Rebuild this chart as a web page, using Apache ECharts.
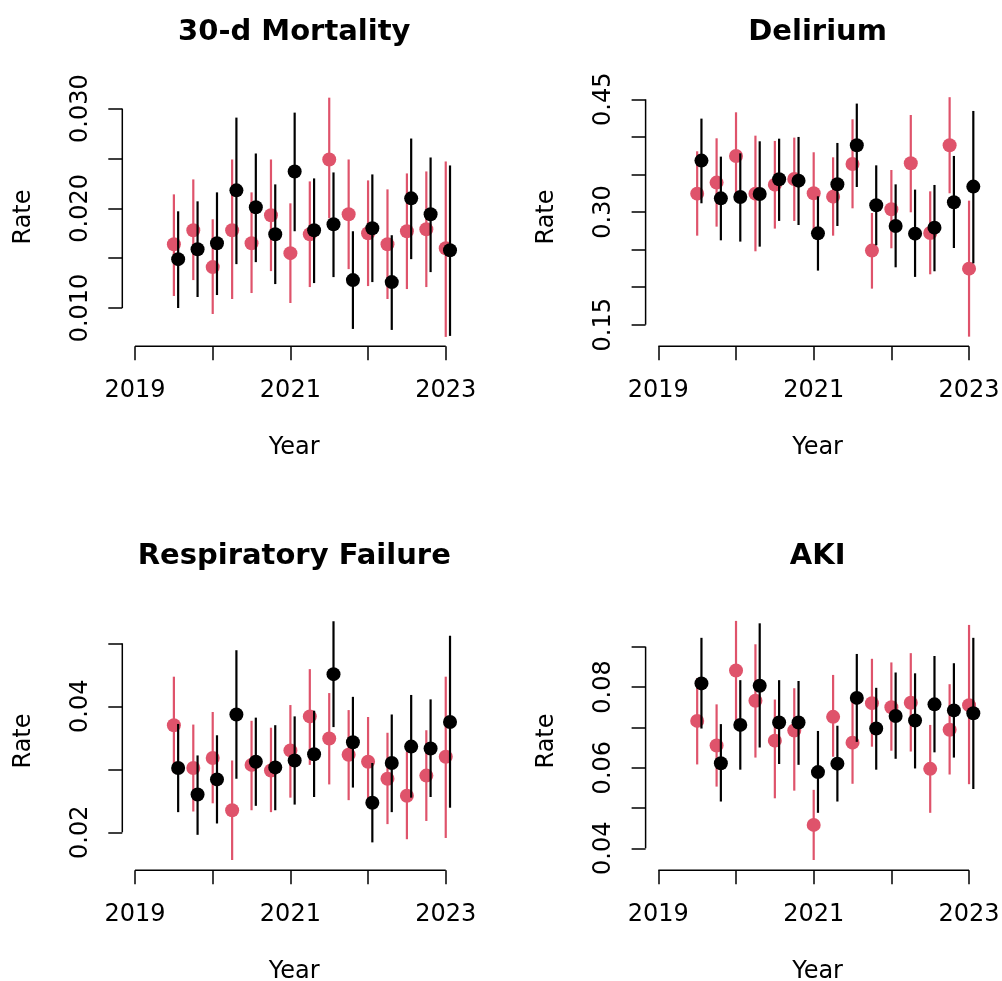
<!DOCTYPE html>
<html>
<head>
<meta charset="utf-8">
<script src="https://cdn.jsdelivr.net/npm/echarts@6/dist/echarts.min.js"></script>
<style>html,body{margin:0;padding:0;background:#fff}#c{width:1002px;height:981px}</style>
</head>
<body>
<div id="c"></div>
<script>
// ---------- data ----------
const yearTicks = [2019, 2020, 2021, 2022, 2023];
const yearLabels = [2019, 2021, 2023];
const timesRed = [2019.50, 2019.75, 2020.00, 2020.25, 2020.50, 2020.75, 2021.00, 2021.25, 2021.50, 2021.75, 2022.00, 2022.25, 2022.50, 2022.75, 2023.00];
const timesBlack = [2019.555, 2019.805, 2020.055, 2020.305, 2020.555, 2020.805, 2021.055, 2021.305, 2021.555, 2021.805, 2022.055, 2022.305, 2022.555, 2022.805, 2023.055];

// 30-d Mortality
const mortTicks = [0.010, 0.015, 0.020, 0.025, 0.030];
const mortLabels = [0.010, 0.020, 0.030];
const mortRedEst = [0.0164, 0.0178, 0.0141, 0.0178, 0.0165, 0.0193, 0.0155, 0.0174, 0.0249, 0.0194, 0.0175, 0.0164, 0.0177, 0.0179, 0.0160];
const mortRedLo  = [0.0112, 0.0128, 0.0094, 0.0109, 0.0115, 0.0137, 0.0105, 0.0121, 0.0190, 0.0139, 0.0122, 0.0109, 0.0119, 0.0121, 0.0071];
const mortRedHi  = [0.0214, 0.0229, 0.0189, 0.0249, 0.0216, 0.0249, 0.0205, 0.0227, 0.0311, 0.0249, 0.0228, 0.0219, 0.0235, 0.0237, 0.0247];
const mortBlkEst = [0.0149, 0.0159, 0.0165, 0.0218, 0.0201, 0.0174, 0.0237, 0.0178, 0.0184, 0.0128, 0.0180, 0.0126, 0.0210, 0.0194, 0.0158];
const mortBlkLo  = [0.0100, 0.0111, 0.0113, 0.0144, 0.0146, 0.0124, 0.0177, 0.0125, 0.0131, 0.0079, 0.0126, 0.0078, 0.0149, 0.0136, 0.0072];
const mortBlkHi  = [0.0197, 0.0207, 0.0216, 0.0291, 0.0255, 0.0224, 0.0296, 0.0230, 0.0236, 0.0177, 0.0234, 0.0173, 0.0270, 0.0251, 0.0243];

// Delirium
const delTicks = [0.15, 0.20, 0.25, 0.30, 0.35, 0.40, 0.45];
const delLabels = [0.15, 0.30, 0.45];
const delRedEst = [0.3244, 0.3391, 0.3746, 0.3244, 0.3364, 0.3440, 0.3249, 0.3204, 0.3639, 0.2486, 0.3036, 0.3648, 0.2721, 0.3888, 0.2246];
const delRedLo  = [0.2685, 0.2805, 0.3200, 0.2477, 0.2779, 0.2881, 0.2729, 0.2685, 0.3049, 0.1980, 0.2517, 0.2996, 0.2171, 0.3249, 0.1341];
const delRedHi  = [0.3808, 0.3981, 0.4327, 0.4016, 0.3946, 0.3990, 0.3795, 0.3728, 0.4234, 0.2987, 0.3559, 0.4291, 0.3275, 0.4528, 0.3151];
const delBlkEst = [0.3684, 0.3182, 0.3200, 0.3240, 0.3435, 0.3417, 0.2716, 0.3369, 0.3888, 0.3089, 0.2814, 0.2712, 0.2792, 0.3129, 0.3338];
const delBlkLo  = [0.3116, 0.2623, 0.2606, 0.2539, 0.2881, 0.2827, 0.2220, 0.2814, 0.3333, 0.2557, 0.2264, 0.2136, 0.2211, 0.2521, 0.2317];
const delBlkHi  = [0.4243, 0.3737, 0.3781, 0.3941, 0.3976, 0.3999, 0.3209, 0.3919, 0.4443, 0.3621, 0.3368, 0.3298, 0.3360, 0.3746, 0.4345];

// Respiratory Failure
const respTicks = [0.02, 0.03, 0.04, 0.05];
const respLabels = [0.02, 0.04];
const respRedEst = [0.0370, 0.0302, 0.0318, 0.0235, 0.0307, 0.0298, 0.0330, 0.0384, 0.0349, 0.0323, 0.0312, 0.0285, 0.0258, 0.0290, 0.0320];
const respRedLo  = [0.0294, 0.0233, 0.0246, 0.0156, 0.0235, 0.0232, 0.0255, 0.0307, 0.0276, 0.0251, 0.0241, 0.0213, 0.0189, 0.0218, 0.0191];
const respRedHi  = [0.0447, 0.0371, 0.0391, 0.0314, 0.0377, 0.0366, 0.0402, 0.0459, 0.0421, 0.0394, 0.0383, 0.0358, 0.0328, 0.0362, 0.0447];
const respBlkEst = [0.0302, 0.0260, 0.0284, 0.0387, 0.0312, 0.0303, 0.0314, 0.0324, 0.0451, 0.0343, 0.0247, 0.0310, 0.0336, 0.0333, 0.0375];
const respBlkLo  = [0.0232, 0.0196, 0.0214, 0.0285, 0.0242, 0.0235, 0.0244, 0.0256, 0.0367, 0.0271, 0.0184, 0.0232, 0.0255, 0.0256, 0.0239];
const respBlkHi  = [0.0372, 0.0322, 0.0354, 0.0489, 0.0382, 0.0370, 0.0384, 0.0393, 0.0535, 0.0415, 0.0310, 0.0387, 0.0418, 0.0411, 0.0512];

// AKI
const akiTicks = [0.04, 0.05, 0.06, 0.07, 0.08, 0.09];
const akiLabels = [0.04, 0.06, 0.08];
const akiRedEst = [0.0716, 0.0655, 0.0841, 0.0766, 0.0667, 0.0692, 0.0458, 0.0726, 0.0662, 0.0760, 0.0750, 0.0761, 0.0597, 0.0694, 0.0755];
const akiRedLo  = [0.0608, 0.0553, 0.0718, 0.0625, 0.0524, 0.0543, 0.0371, 0.0627, 0.0560, 0.0652, 0.0642, 0.0640, 0.0488, 0.0583, 0.0559];
const akiRedHi  = [0.0822, 0.0757, 0.0964, 0.0906, 0.0769, 0.0797, 0.0545, 0.0830, 0.0764, 0.0870, 0.0861, 0.0884, 0.0706, 0.0807, 0.0954];
const akiBlkEst = [0.0809, 0.0611, 0.0706, 0.0803, 0.0712, 0.0712, 0.0589, 0.0610, 0.0773, 0.0697, 0.0728, 0.0717, 0.0757, 0.0742, 0.0735];
const akiBlkLo  = [0.0697, 0.0516, 0.0595, 0.0650, 0.0609, 0.0607, 0.0488, 0.0516, 0.0664, 0.0595, 0.0622, 0.0598, 0.0638, 0.0625, 0.0547];
const akiBlkHi  = [0.0922, 0.0708, 0.0817, 0.0958, 0.0817, 0.0815, 0.0691, 0.0704, 0.0882, 0.0798, 0.0836, 0.0834, 0.0877, 0.0859, 0.0922];

// ---------- layout / style ----------
const RED = '#DF536B', BLACK = '#000000';
const FONT = 'DejaVu Sans';
const X_MIN = 2018.836, X_MAX = 2023.264;
const GW = 343.95, GH = 258.6;
const panels = [
  {title: '30-d Mortality', left: 122.3, top: 87.7, yMin: 0.006157, yMax: 0.03210, ticks: mortTicks, labels: mortLabels, dec: 3,
   red: [mortRedEst, mortRedLo, mortRedHi], blk: [mortBlkEst, mortBlkLo, mortBlkHi]},
  {title: 'Delirium', left: 645.6, top: 87.7, yMin: 0.12125, yMax: 0.46544, ticks: delTicks, labels: delLabels, dec: 2,
   red: [delRedEst, delRedLo, delRedHi], blk: [delBlkEst, delBlkLo, delBlkHi]},
  {title: 'Respiratory Failure', left: 122.3, top: 611.7, yMin: 0.013968, yMax: 0.055016, ticks: respTicks, labels: respLabels, dec: 2,
   red: [respRedEst, respRedLo, respRedHi], blk: [respBlkEst, respBlkLo, respBlkHi]},
  {title: 'AKI', left: 645.6, top: 611.7, yMin: 0.034544, yMax: 0.09868, ticks: akiTicks, labels: akiLabels, dec: 2,
   red: [akiRedEst, akiRedLo, akiRedHi], blk: [akiBlkEst, akiBlkLo, akiBlkHi]}
];

const grid = [], xAxis = [], yAxis = [], series = [], graphic = [];
const axisTextStyle = {color: '#000', fontFamily: FONT, fontSize: 24};

function whisker(color) {
  return function (params, api) {
    const x = api.value(0), lo = api.value(1), hi = api.value(2);
    const p1 = api.coord([x, lo]), p2 = api.coord([x, hi]);
    return {type: 'line', shape: {x1: p1[0], y1: p1[1], x2: p2[0], y2: p2[1]},
            style: {stroke: color, lineWidth: 2.2}};
  };
}

panels.forEach((p, i) => {
  grid.push({left: p.left, top: p.top, width: GW, height: GH, outerBoundsMode: 'none', containLabel: false});
  xAxis.push({
    type: 'value', gridIndex: i, min: X_MIN, max: X_MAX,
    splitLine: {show: false}, axisLine: {show: false},
    axisTick: {show: true, customValues: yearTicks, length: 14, lineStyle: {color: '#000', width: 1.5}},
    axisLabel: Object.assign({show: true, customValues: yearLabels, margin: 32, formatter: v => String(Math.round(v))}, axisTextStyle),
    name: 'Year', nameLocation: 'middle', nameGap: 89,
    nameTextStyle: axisTextStyle
  });
  yAxis.push({
    type: 'value', gridIndex: i, min: p.yMin, max: p.yMax,
    splitLine: {show: false}, axisLine: {show: false},
    axisTick: {show: true, customValues: p.ticks, length: 14, lineStyle: {color: '#000', width: 1.5}},
    axisLabel: Object.assign({show: true, customValues: p.labels, rotate: 90, margin: 30, formatter: v => v.toFixed(p.dec)}, axisTextStyle),
    name: 'Rate', nameLocation: 'middle', nameGap: 87, nameRotate: 90,
    nameTextStyle: axisTextStyle
  });
  // axis lines spanning first..last tick (R style)
  series.push({type: 'line', xAxisIndex: i, yAxisIndex: i, silent: true, clip: false, symbol: 'none', animation: false,
    lineStyle: {color: '#000', width: 1.5}, z: 1,
    data: [[X_MIN, p.ticks[0]], [X_MIN, p.ticks[p.ticks.length - 1]]]});
  series.push({type: 'line', xAxisIndex: i, yAxisIndex: i, silent: true, clip: false, symbol: 'none', animation: false,
    lineStyle: {color: '#000', width: 1.5}, z: 1,
    data: [[yearTicks[0], p.yMin], [yearTicks[yearTicks.length - 1], p.yMin]]});
  // red group
  series.push({type: 'custom', xAxisIndex: i, yAxisIndex: i, z: 2, animation: false, silent: true,
    renderItem: whisker(RED), encode: {x: 0, y: [1, 2]},
    data: timesRed.map((t, k) => [t, p.red[1][k], p.red[2][k]])});
  series.push({type: 'scatter', xAxisIndex: i, yAxisIndex: i, z: 3, animation: false, silent: true,
    symbol: 'circle', symbolSize: 14, itemStyle: {color: RED, opacity: 1},
    data: timesRed.map((t, k) => [t, p.red[0][k]])});
  // black group
  series.push({type: 'custom', xAxisIndex: i, yAxisIndex: i, z: 4, animation: false, silent: true,
    renderItem: whisker(BLACK), encode: {x: 0, y: [1, 2]},
    data: timesBlack.map((t, k) => [t, p.blk[1][k], p.blk[2][k]])});
  series.push({type: 'scatter', xAxisIndex: i, yAxisIndex: i, z: 5, animation: false, silent: true,
    symbol: 'circle', symbolSize: 14, itemStyle: {color: BLACK, opacity: 1},
    data: timesBlack.map((t, k) => [t, p.blk[0][k]])});
  graphic.push({type: 'text', x: p.left + GW / 2, y: p.top - 55.5,
    style: {text: p.title, font: 'bold 29px "DejaVu Sans"', fill: '#000',
            align: 'center', verticalAlign: 'middle', textAlign: 'center', textVerticalAlign: 'middle'}});
});

const chart = echarts.init(document.getElementById('c'), null, {renderer: 'canvas'});
chart.setOption({
  backgroundColor: '#ffffff',
  animation: false,
  grid, xAxis, yAxis, series, graphic
});
</script>
</body>
</html>
